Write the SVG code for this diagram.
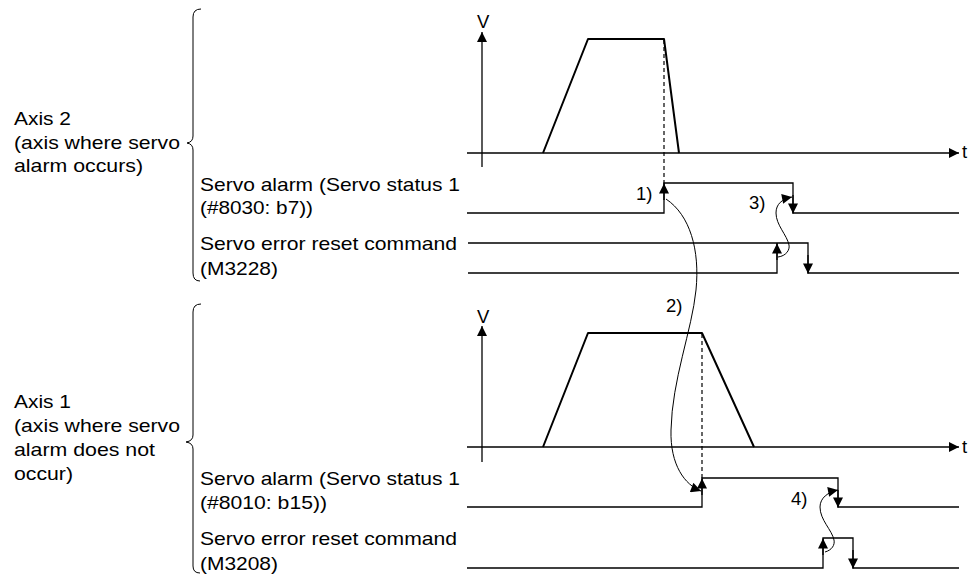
<svg xmlns="http://www.w3.org/2000/svg" width="974" height="575" viewBox="0 0 974 575">
<style>
text{font-family:"Liberation Sans",Arial,sans-serif;font-size:18.5px;fill:#000}
.ax{stroke:#000;stroke-width:1.3;fill:none}
.sig{stroke:#000;stroke-width:1.3;fill:none}
.trap{stroke:#000;stroke-width:2;fill:none;stroke-linejoin:round}
.dash{stroke:#000;stroke-width:1.2;fill:none;stroke-dasharray:4 3}
.brace{stroke:#000;stroke-width:1;fill:none}
.cur{stroke:#000;stroke-width:1;fill:none}
</style>
<defs>
<marker id="arr" viewBox="0 0 10 10" refX="10" refY="5" markerWidth="11" markerHeight="10" markerUnits="userSpaceOnUse" orient="auto"><path d="M0,0 L10,5 L0,10 Z" fill="#000"/></marker>
</defs>
<rect width="974" height="575" fill="#fff"/>

<g id="axis2-label">
<text x="14" y="125" textLength="57" lengthAdjust="spacingAndGlyphs">Axis 2</text>
<text x="14" y="148.5" textLength="166" lengthAdjust="spacingAndGlyphs">(axis where servo</text>
<text x="14" y="172" textLength="129" lengthAdjust="spacingAndGlyphs">alarm occurs)</text>
<path class="brace" d="M201,9 Q193,9 193,17 L193,136 Q193,142 187,143 Q193,144 193,150 L193,273 Q193,281 200,281"/>
</g>

<g id="axis2-velocity">
<text x="477" y="28">V</text>
<text x="962" y="158">t</text>
<line class="ax" x1="482" y1="167" x2="482" y2="32" marker-end="url(#arr)"/>
<line class="ax" x1="467" y1="153" x2="959" y2="153" marker-end="url(#arr)"/>
<polyline class="trap" points="543,153 588,39 664,39 679,153"/>
<line class="dash" x1="664" y1="40" x2="664" y2="184"/>
</g>

<g id="axis2-alarm">
<text x="200" y="190.5" textLength="260" lengthAdjust="spacingAndGlyphs">Servo alarm (Servo status 1</text>
<text x="200" y="214" textLength="113" lengthAdjust="spacingAndGlyphs">(#8030: b7))</text>
<polyline class="sig" points="467,213 664,213 664,183 793,183 793,213 959,213"/>
<line class="sig" x1="664" y1="200" x2="664" y2="183.5" marker-end="url(#arr)"/>
<line class="sig" x1="793" y1="195" x2="793" y2="213.5" marker-end="url(#arr)"/>
</g>

<g id="axis2-reset">
<text x="200" y="250" textLength="257" lengthAdjust="spacingAndGlyphs">Servo error reset command</text>
<text x="200" y="275" textLength="78" lengthAdjust="spacingAndGlyphs">(M3228)</text>
<polyline class="sig" points="468,243 808,243 808,273 959,273"/>
<polyline class="sig" points="468,273 777,273 777,243"/>
<line class="sig" x1="777" y1="260" x2="777" y2="243.5" marker-end="url(#arr)"/>
<line class="sig" x1="808" y1="255" x2="808" y2="273.5" marker-end="url(#arr)"/>
</g>

<g id="axis1-label">
<text x="14" y="407.5" textLength="57" lengthAdjust="spacingAndGlyphs">Axis 1</text>
<text x="14" y="431.5" textLength="166" lengthAdjust="spacingAndGlyphs">(axis where servo</text>
<text x="14" y="456" textLength="141" lengthAdjust="spacingAndGlyphs">alarm does not</text>
<text x="14" y="480" textLength="59" lengthAdjust="spacingAndGlyphs">occur)</text>
<path class="brace" d="M201,304 Q193,304 193,312 L193,435 Q193,441 186,442 Q193,443 193,449 L193,566 Q193,573 200,573"/>
</g>

<g id="axis1-velocity">
<text x="477" y="323">V</text>
<text x="962" y="453">t</text>
<line class="ax" x1="482" y1="462" x2="482" y2="326" marker-end="url(#arr)"/>
<line class="ax" x1="467" y1="447" x2="959" y2="447" marker-end="url(#arr)"/>
<polyline class="trap" points="543,447 588,333 702,333 754,447"/>
<line class="dash" x1="702" y1="334" x2="702" y2="478"/>
</g>

<g id="axis1-alarm">
<text x="200" y="485" textLength="260" lengthAdjust="spacingAndGlyphs">Servo alarm (Servo status 1</text>
<text x="200" y="508.5" textLength="127" lengthAdjust="spacingAndGlyphs">(#8010: b15))</text>
<polyline class="sig" points="467,507 702,507 702,478 838,478 838,507 959,507"/>
<line class="sig" x1="702" y1="495" x2="702" y2="478.5" marker-end="url(#arr)"/>
<line class="sig" x1="838" y1="490" x2="838" y2="507.5" marker-end="url(#arr)"/>
</g>

<g id="axis1-reset">
<text x="200" y="545" textLength="257" lengthAdjust="spacingAndGlyphs">Servo error reset command</text>
<text x="200" y="570" textLength="78" lengthAdjust="spacingAndGlyphs">(M3208)</text>
<polyline class="sig" points="467,568 823,568 823,538 853,538 853,568 959,568"/>
<line class="sig" x1="823" y1="555" x2="823" y2="538.5" marker-end="url(#arr)"/>
<line class="sig" x1="853" y1="550" x2="853" y2="568.5" marker-end="url(#arr)"/>
</g>

<g id="connectors">
<path class="cur" d="M666,199 C690,215 700,250 696,290 C692,330 672,380 671,430 C670,465 685,485 701,491" marker-end="url(#arr)"/>
<path class="cur" d="M778,257 C786,256 790,250 789,245 C787,235 776,225 776,213 C776,204 782,199 792,197" marker-end="url(#arr)"/>
<path class="cur" d="M825,552 C832,550 835,545 834,540 C832,530 820,520 820,507 C820,498 828,492 838,490" marker-end="url(#arr)"/>
<text x="636" y="200">1)</text>
<text x="666" y="311.5">2)</text>
<text x="749" y="209">3)</text>
<text x="791" y="505">4)</text>
</g>
</svg>
